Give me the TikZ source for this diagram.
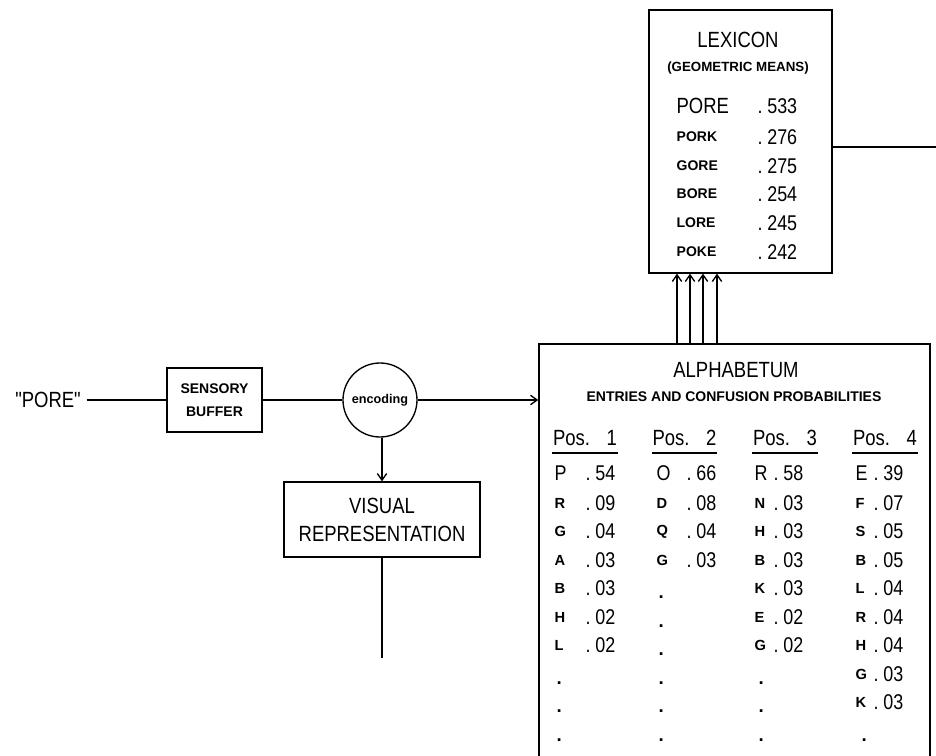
\documentclass[tikz,border=0pt]{standalone}
\usepackage{fontspec}
\setmainfont{Liberation Sans}
\newfontfamily\condfont[FakeStretch=0.84]{Liberation Sans}
\usetikzlibrary{arrows.meta}
\newcommand{\pnum}[1]{.\kern3.5pt#1}
\tikzset{
  box/.style={draw, line width=1pt, inner sep=0pt},
  bigtxt/.style={font=\condfont\fontsize{16.5}{21}\selectfont, inner sep=0pt},
  numtxt/.style={font=\condfont\fontsize{16}{18}\selectfont, inner sep=0pt},
  boldtxt/.style={font=\bfseries\fontsize{10.5}{17}\selectfont, inner sep=0pt},
  lettxt/.style={font=\bfseries\fontsize{11}{13}\selectfont, inner sep=0pt},
}

\begin{document}
\begin{tikzpicture}[x=0.75pt,y=-0.75pt,line width=1pt,>={Straight Barb[length=5pt,width=7pt]}]
	\useasboundingbox (0,0) rectangle (936,756);
	\clip (0,0) rectangle (936,756);
	% boxes of the model
	\node[box, minimum width=137.25pt, minimum height=197.25pt] (lex) at (740.5,141.5) {};
	\node[box, minimum width=293.25pt, minimum height=342pt] (alpha) at (734.5,572) {};
	\node[box, boldtxt, minimum width=71.25pt, minimum height=48pt, align=center] (sens) at (214.5,400) {SENSORY\\BUFFER};
	\node[box, circle, minimum size=55.5pt, font=\bfseries\fontsize{9.5}{11}\selectfont] (enc) at (380,400) {encoding};
	\node[box, bigtxt, minimum width=147pt, minimum height=56.25pt, align=center] (vis) at (382,519.5) {VISUAL\\REPRESENTATION};
	\node[bigtxt, inner xsep=4pt] (word) at (48,400) {"PORE"};
	% connections
	\coordinate (visout) at (382,658);
	\coordinate (lexout) at (936,147);
	\draw (word) -- (sens);
	\draw (sens) -- (enc);
	\draw[->] (enc) -- (enc -| alpha.west);
	\draw[->] (enc.south -| vis.north) -- (vis.north);
	\draw (vis) -- (visout);
	\draw (lexout -| lex.east) -- (lexout);
	\foreach \x in {677,690,703,717}
		\draw[->] (\x,0 |- alpha.north) -- (\x,0 |- lex.south);
	% lexicon
	\node[bigtxt] (lextitle) at (738,40) {LEXICON};
	\node[boldtxt, font=\bfseries\fontsize{10}{12}\selectfont] (lexsub) at (738,68) {(GEOMETRIC MEANS)};
	\node[bigtxt, anchor=west] (w0) at (676,106) {PORE};
	\node[numtxt, anchor=west] (v0) at (757,106) {\pnum{533}};
	\foreach \w/\v/\y [count=\i] in {PORK/276/137,GORE/275/166,BORE/254/194,LORE/245/223,POKE/242/252}{
		\node[boldtxt, anchor=west] (w\i) at (676,\y) {\w};
		\node[numtxt, anchor=west] (v\i) at (757,\y) {\pnum{\v}};
	}
	% alphabetum
	\node[bigtxt] (alphtitle) at (736,370) {ALPHABETUM};
	\node[boldtxt] (alphsub) at (734,397) {ENTRIES AND CONFUSION PROBABILITIES};
	\foreach \n/\x in {1/585,2/684.5,3/785,4/885}{
		\node[bigtxt, text width=48pt] (pos\n) at (\x,438) {Pos.\hfill\n};
		\draw ([yshift=-5pt]pos\n.south west) -- ([yshift=-5pt]pos\n.south east);
	}
	% first row, larger letters
	\foreach \l/\v/\lx/\nx [count=\c] in {P/54/554/585,O/66/656/686,R/58/754/773,E/39/855/873}{
		\node[numtxt, anchor=west] (l\c-1) at (\lx,473) {\l};
		\node[numtxt, anchor=west] (n\c-1) at (\nx,473) {\pnum{\v}};
	}
	% other rows
	\foreach \l/\v [count=\k from 2] in {R/09,G/04,A/03,B/03,H/02,L/02}{
		\node[lettxt, anchor=west] (l1-\k) at (554,{503+28.5*(\k-2)}) {\l};
		\node[numtxt, anchor=west] (n1-\k) at (585,{503+28.5*(\k-2)}) {\pnum{\v}};
	}
	\foreach \l/\v [count=\k from 2] in {D/08,Q/04,G/03}{
		\node[lettxt, anchor=west] (l2-\k) at (656,{503+28.5*(\k-2)}) {\l};
		\node[numtxt, anchor=west] (n2-\k) at (686,{503+28.5*(\k-2)}) {\pnum{\v}};
	}
	\foreach \l/\v [count=\k from 2] in {N/03,H/03,B/03,K/03,E/02,G/02}{
		\node[lettxt, anchor=west] (l3-\k) at (754,{503+28.5*(\k-2)}) {\l};
		\node[numtxt, anchor=west] (n3-\k) at (773,{503+28.5*(\k-2)}) {\pnum{\v}};
	}
	\foreach \l/\v [count=\k from 2] in {F/07,S/05,B/05,L/04,R/04,H/04,G/03,K/03}{
		\node[lettxt, anchor=west] (l4-\k) at (855,{503+28.5*(\k-2)}) {\l};
		\node[numtxt, anchor=west] (n4-\k) at (873,{503+28.5*(\k-2)}) {\pnum{\v}};
	}
	% lists go on
	\foreach \x/\k in {556/8,556/9,556/10,658/5,658/6,658/7,658/8,658/9,658/10,758/8,758/9,758/10,861/10}
		\node[lettxt, font=\bfseries\fontsize{14}{14}\selectfont, anchor=base west] (dot\x-\k) at (\x,{503+28.5*(\k-2)+10}) {.};
\end{tikzpicture}
\end{document}
